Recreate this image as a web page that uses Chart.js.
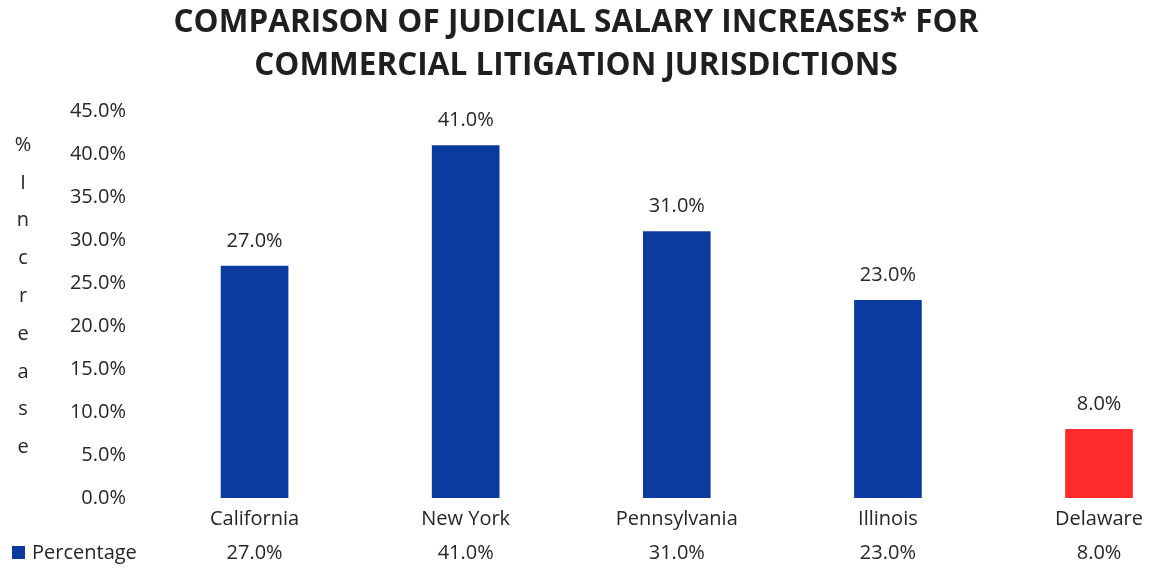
<!DOCTYPE html>
<html><head><meta charset="utf-8">
<script src="https://cdn.jsdelivr.net/npm/chart.js@4.4.0/dist/chart.umd.min.js"></script>
<style>html,body{margin:0;padding:0;background:#fff;overflow:hidden}#wrap{width:1152px;height:569px;position:relative}</style>
</head><body><div id="wrap"><canvas id="c" width="1152" height="569"></canvas></div>
<script>
const titleLines = ['COMPARISON OF JUDICIAL SALARY INCREASES* FOR', 'COMMERCIAL LITIGATION JURISDICTIONS'];
const categories = ['California', 'New York', 'Pennsylvania', 'Illinois', 'Delaware'];
const percentages = [27.0, 41.0, 31.0, 23.0, 8.0];
const barColors = ['#0b3b9e', '#0b3b9e', '#0b3b9e', '#0b3b9e', '#ff2a2a'];
const seriesName = 'Percentage';
const yTickValues = [0, 5, 10, 15, 20, 25, 30, 35, 40, 45];
const yTitleLetters = ['%', 'I', 'n', 'c', 'r', 'e', 'a', 's', 'e'];

const FONT = '"Open Sans"';
const TEXT = '#262626';
const fmt = v => Number(v).toFixed(1) + '%';

const extras = {
  id: 'extras',
  afterDatasetsDraw(chart) {
    const ctx = chart.ctx;
    const xs = chart.scales.x;
    const meta = chart.getDatasetMeta(0);
    ctx.save();
    ctx.fillStyle = TEXT;
    ctx.font = '20px ' + FONT;
    ctx.textAlign = 'center';
    ctx.textBaseline = 'middle';
    meta.data.forEach((bar, i) => {
      ctx.fillText(fmt(percentages[i]), bar.x, bar.y - 25);
    });
    // data table row
    const rowY = 553;
    percentages.forEach((v, i) => {
      ctx.fillText(fmt(v), xs.getPixelForValue(i), rowY);
    });
    ctx.fillStyle = barColors[0];
    ctx.fillRect(12, rowY - 7, 13, 13);
    ctx.fillStyle = TEXT;
    ctx.textAlign = 'left';
    ctx.fillText(seriesName, 32, rowY);
    // y axis title, stacked letters
    ctx.textAlign = 'center';
    yTitleLetters.forEach((ch, i) => {
      ctx.fillText(ch, 23, 145 + i * 37.8);
    });
    ctx.restore();
  }
};

new Chart(document.getElementById('c'), {
  type: 'bar',
  data: {
    datasets: [{
      label: seriesName,
      data: percentages.map((v, i) => ({ x: i, y: v })),
      backgroundColor: barColors,
      borderWidth: 0,
      barThickness: 67
    }]
  },
  options: {
    responsive: false,
    animation: false,
    devicePixelRatio: 1,
    layout: { padding: { left: 0, right: 0, top: 0, bottom: 0 } },
    plugins: {
      legend: { display: false },
      tooltip: { enabled: false },
      title: {
        display: true,
        text: titleLines,
        color: '#1f1f1f',
        font: { family: FONT, size: 31.5, weight: 'bold', lineHeight: 1.37 },
        padding: { top: 1, bottom: 24 }
      }
    },
    scales: {
      x: {
        type: 'linear',
        offset: false,
        min: -0.5,
        max: 4.245,
        grid: { display: false, drawTicks: false },
        border: { display: false },
        afterBuildTicks: s => { s.ticks = categories.map((_, i) => ({ value: i })); },
        afterFit: s => { s.height = 71; },
        ticks: {
          callback: v => categories[v],
          color: TEXT,
          font: { family: FONT, size: 20 },
          padding: 9,
          autoSkip: false,
          maxRotation: 0
        }
      },
      y: {
        min: 0,
        max: 45,
        grid: { display: false, drawTicks: false },
        border: { display: false },
        afterBuildTicks: s => { s.ticks = yTickValues.map(v => ({ value: v })); },
        afterFit: s => { s.width = 149; },
        ticks: {
          callback: v => fmt(v),
          color: TEXT,
          font: { family: FONT, size: 20 },
          padding: 23
        }
      }
    }
  },
  plugins: [extras]
});
</script>
</body></html>
